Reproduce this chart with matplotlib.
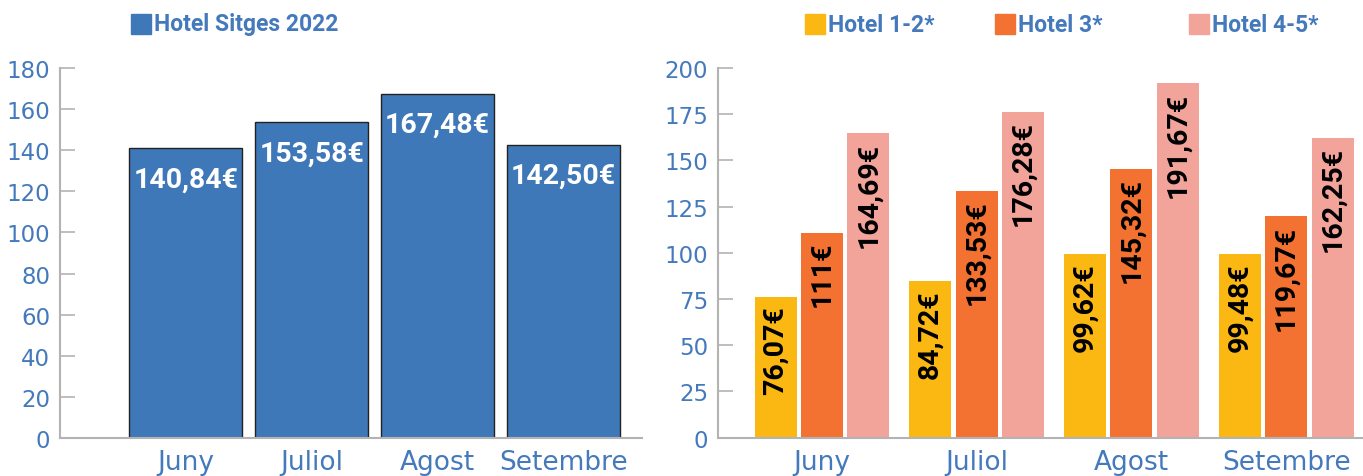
import numpy as np
import matplotlib
matplotlib.use("Agg")
import matplotlib.pyplot as plt
from matplotlib.patches import Rectangle

months = ['Juny', 'Juliol', 'Agost', 'Setembre']

sitges = [140.84, 153.58, 167.48, 142.50]
sitges_labels = ['140,84€', '153,58€', '167,48€', '142,50€']

series_names = ['Hotel 1-2*', 'Hotel 3*', 'Hotel 4-5*']
hotel_12 = [76.07, 84.72, 99.62, 99.48]
hotel_3 = [111.0, 133.53, 145.32, 119.67]
hotel_45 = [164.69, 176.28, 191.67, 162.25]
labels_12 = ['76,07€', '84,72€', '99,62€', '99,48€']
labels_3 = ['111€', '133,53€', '145,32€', '119,67€']
labels_45 = ['164,69€', '176,28€', '191,67€', '162,25€']

left_ticks = np.arange(0, 181, 20)
right_ticks = np.arange(0, 201, 25)

blue = '#3E78B8'
txt_blue = '#4479BC'
grey = '#B3B3B3'
colors = ['#FBB813', '#F37232', '#F2A39A']
narrow = ['Roboto', 'DejaVu Sans']

fig = plt.figure(figsize=(13.63, 4.77), dpi=100)
ax1 = fig.add_axes([60 / 1363, 38 / 477, 582 / 1363, 370 / 477])
ax2 = fig.add_axes([718 / 1363, 38.3 / 477, 645 / 1363, 369.7 / 477])


def style(ax, ticks, top):
    for s in ['top', 'right']:
        ax.spines[s].set_visible(False)
    for s in ['left', 'bottom']:
        ax.spines[s].set_color(grey)
        ax.spines[s].set_linewidth(1.5)
    ax.set_ylim(0, top)
    ax.set_yticks(ticks)
    ax.tick_params(axis='y', direction='in', length=11, width=1.2, color=grey,
                   labelsize=16.5, labelcolor=txt_blue, pad=7)
    ax.tick_params(axis='x', length=0, labelsize=19, labelcolor=txt_blue, pad=8)


# left panel
x = np.arange(len(months))
ax1.bar(x, sitges, 0.9, color=blue, edgecolor='#222222', linewidth=1.0)
ax1.set_xlim(-1.0, 3.625)
ax1.set_xticks(x)
ax1.set_xticklabels(months)
style(ax1, left_ticks, 180)
for xi, v, lab in zip(x, sitges, sitges_labels):
    ax1.annotate(lab, (xi, v), xytext=(0, -22), textcoords='offset points',
                 ha='center', va='center', color='white', fontsize=20.5,
                 fontweight='bold', family=narrow)

# right panel
w = 0.2715
step = 0.30
data = [hotel_12, hotel_3, hotel_45]
labs = [labels_12, labels_3, labels_45]
for i, (vals, ll) in enumerate(zip(data, labs)):
    xs = x + (i - 1) * step
    ax2.bar(xs, vals, w, color=colors[i], label=series_names[i])
    for xi, v, lab in zip(xs, vals, ll):
        ax2.annotate(lab, (xi, v), xytext=(0, -6), textcoords='offset points',
                     ha='center', va='top', rotation=90, color='black',
                     fontsize=20.5, fontweight='bold', family=narrow)
ax2.set_xlim(-0.672, 3.497)
ax2.set_xticks(x)
ax2.set_xticklabels(months)
style(ax2, right_ticks, 200)

# legends drawn as square + text in figure coords
def legend_item(x0, color, text):
    fig.patches.append(Rectangle((x0 / 1363, (477 - 35) / 477), 20 / 1363, 20 / 477,
                                 transform=fig.transFigure, color=color))
    fig.text((x0 + 23) / 1363, (477 - 25) / 477, text, color=txt_blue,
             fontsize=16.5, fontweight='bold', family=narrow, va='center', ha='left')

legend_item(131, blue, 'Hotel Sitges 2022')
legend_item(805, colors[0], series_names[0])
legend_item(995, colors[1], series_names[1])
legend_item(1189, colors[2], series_names[2])

fig.savefig('out.png', dpi=100)
